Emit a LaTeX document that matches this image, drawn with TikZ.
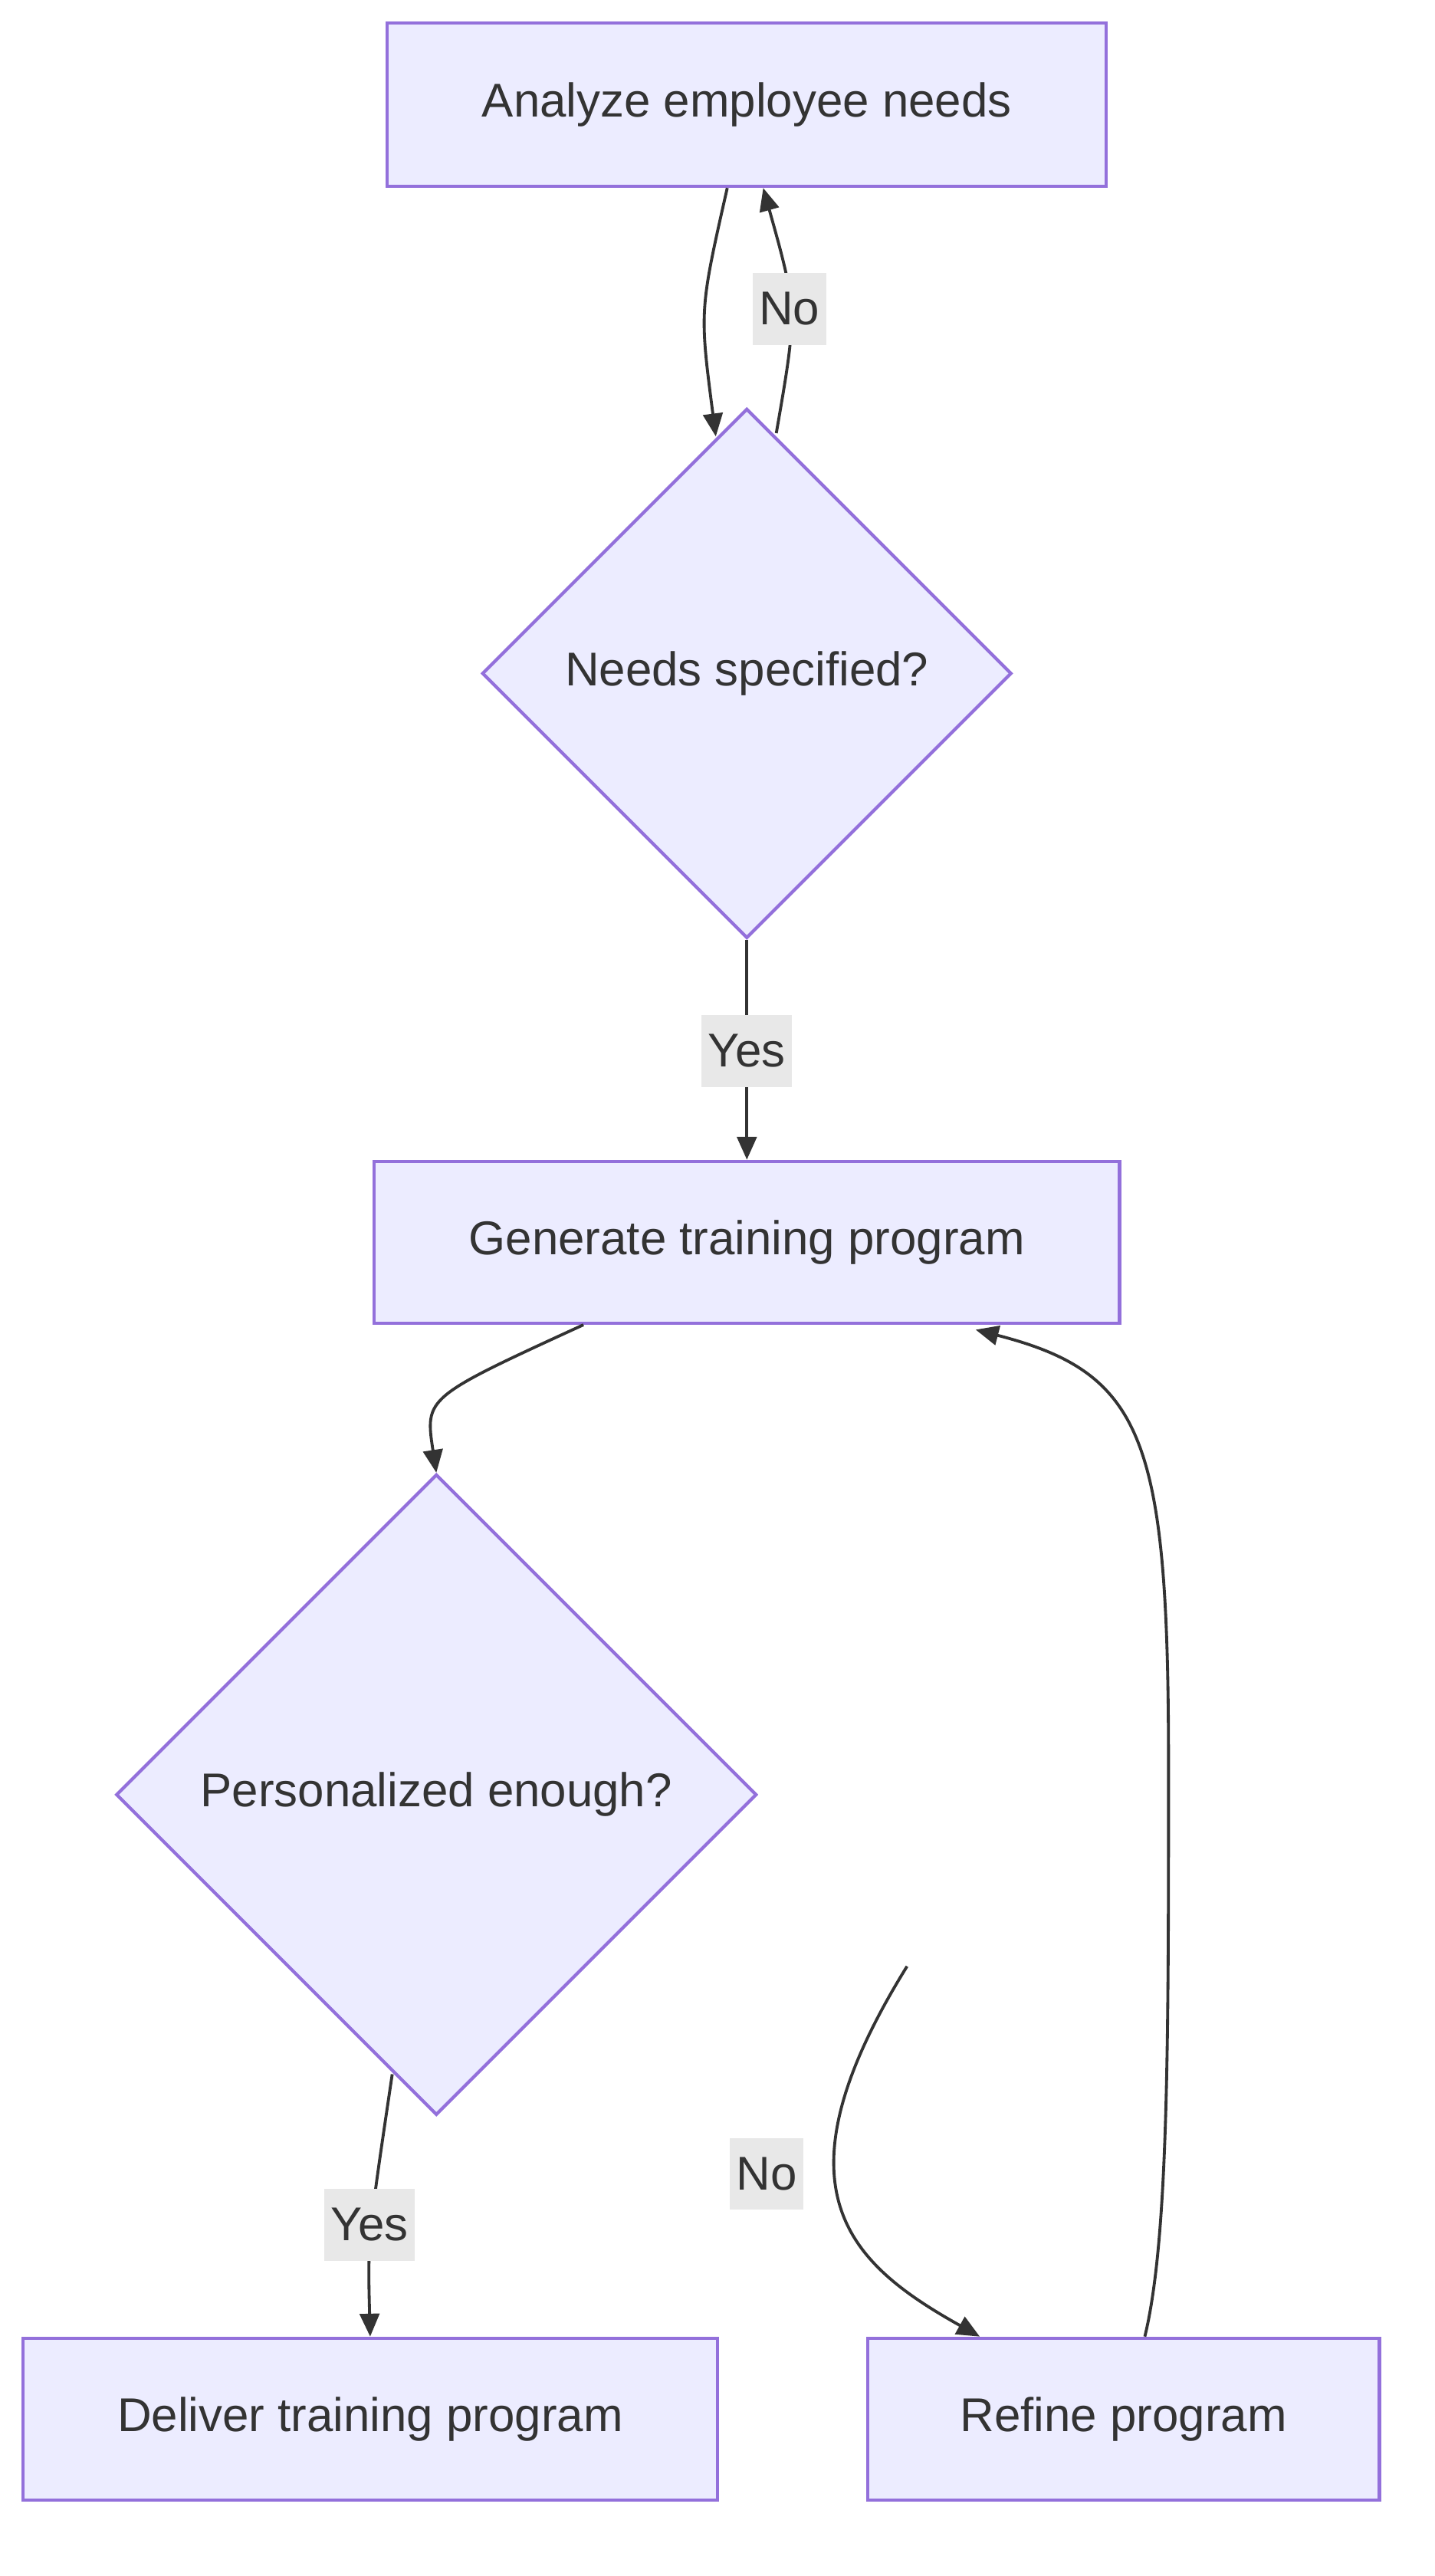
\documentclass[tikz,border=0pt]{standalone}
\usepackage{fontspec}
\setmainfont{Liberation Sans}
\usetikzlibrary{shapes.geometric,arrows.meta}
\definecolor{nfill}{HTML}{ECECFF}
\definecolor{nstroke}{HTML}{9370DB}
\definecolor{txt}{HTML}{333333}
\definecolor{lbg}{HTML}{E8E8E8}
\begin{document}
\begin{tikzpicture}[x=0.5pt,y=-0.5pt,
  box/.style={draw=nstroke,fill=nfill,line width=1pt,text=txt,font=\fontsize{14.5pt}{17pt}\selectfont,inner sep=0pt},
  dia/.style={box,diamond,aspect=1},
  lab/.style={fill=lbg,text=txt,font=\fontsize{14.5pt}{17pt}\selectfont,inner sep=2pt,minimum height=22pt},
  e/.style={draw=txt,line width=0.9pt,-{Triangle[length=7pt,width=6pt]}}]
\useasboundingbox (0,0) rectangle (878,1576);
\node[box,minimum width=220pt,minimum height=50pt] (A) at (457,64) {Analyze employee needs};
\node[dia,minimum width=162pt,minimum height=162pt] (D1) at (457,412) {Needs specified?};
\node[box,minimum width=228pt,minimum height=49.5pt] (G) at (457,760) {Generate training program};
\node[dia,minimum width=196pt,minimum height=196pt] (D2) at (267,1098) {Personalized enough?};
\node[box,minimum width=212.5pt,minimum height=49.5pt] (L) at (226.5,1480) {Deliver training program};
\node[box,minimum width=156.5pt,minimum height=49.5pt] (R) at (687.5,1480) {Refine program};
\draw[e] ([shift={(-12,0)}]A.south) .. controls (428,190) .. ([shift={(-19,18)}]D1.north);
\draw[e] ([shift={(18,16)}]D1.north) .. controls (488,190) .. ([shift={(10,0)}]A.south);
\node[lab] (n1) at (483,189) {No};
\draw[e] (D1.south) -- (G.north);
\node[lab] (y1) at (457,643) {Yes};
\draw[e] ([shift={(-100,0)}]G.south) .. controls (260,855) .. (D2.north);
\draw[e] ([shift={(-27,-26)}]D2.south) .. controls (225,1370) .. (L.north);
\node[lab] (y2) at (226,1361) {Yes};
\draw[e] ([shift={(91,105)}]D2.east) .. controls (470,1340) and (520,1385) .. ([shift={(-88,0)}]R.north);
\node[lab] (n2) at (469,1330) {No};
\draw[e] ([shift={(13,0)}]R.north) .. controls (715,1370) and (715,1250) .. (715,1080)
  .. controls (715,880) and (700,840) .. ([shift={(140,3)}]G.south);
\end{tikzpicture}
\end{document}
